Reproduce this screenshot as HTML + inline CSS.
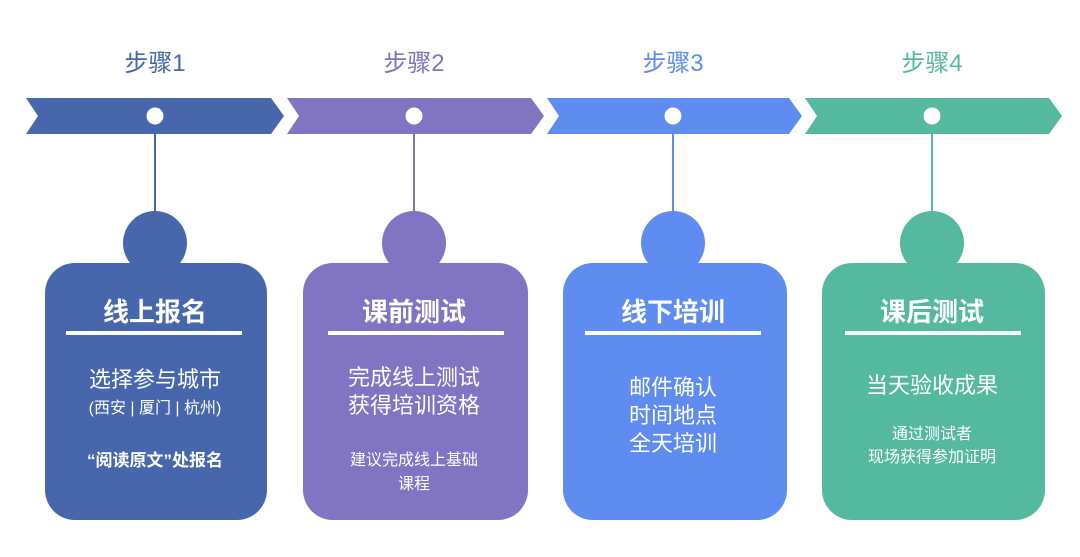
<!DOCTYPE html>
<html><head><meta charset="utf-8"><style>
body{margin:0;background:#fff;}
svg text{font-family:"Liberation Sans","Noto Sans CJK SC",sans-serif;}
</style></head><body>
<svg width="1080" height="552" viewBox="0 0 1080 552" xmlns="http://www.w3.org/2000/svg">
<rect width="1080" height="552" fill="#fff"/>
<polygon points="26,98 271,98 284,116 271,134 26,134 38,116" fill="#4767AD"/>
<polygon points="287,98 531,98 544,116 531,134 287,134 299,116" fill="#8174C2"/>
<polygon points="547,98 789,98 802,116 789,134 547,134 559,116" fill="#5E8CF0"/>
<polygon points="805,98 1049,98 1062,116 1049,134 805,134 817,116" fill="#55B9A0"/>
<g font-size="24" text-anchor="middle">
<text x="155" y="71" fill="#4767AD">步骤1</text>
<text x="414" y="71" fill="#7E74BC">步骤2</text>
<text x="673" y="71" fill="#5E8CF0">步骤3</text>
<text x="932" y="71" fill="#55B9A0">步骤4</text>
</g>
<g>
<line x1="155" y1="116" x2="155" y2="230" stroke="#4767AD" stroke-width="2"/>
<circle cx="155" cy="243" r="32" fill="#4767AD"/>
<rect x="45" y="263" width="222" height="257" rx="30" fill="#4767AD"/>
<circle cx="155" cy="116" r="8.5" fill="#fff"/>
<line x1="414" y1="116" x2="414" y2="230" stroke="#8174C2" stroke-width="2"/>
<circle cx="414" cy="243" r="32" fill="#8174C2"/>
<rect x="303" y="263" width="225" height="257" rx="30" fill="#8174C2"/>
<circle cx="414" cy="116" r="8.5" fill="#fff"/>
<line x1="673" y1="116" x2="673" y2="230" stroke="#5E8CF0" stroke-width="2"/>
<circle cx="673" cy="243" r="32" fill="#5E8CF0"/>
<rect x="563" y="263" width="224" height="257" rx="30" fill="#5E8CF0"/>
<circle cx="673" cy="116" r="8.5" fill="#fff"/>
<line x1="932" y1="116" x2="932" y2="230" stroke="#55B9A0" stroke-width="2"/>
<circle cx="932" cy="243" r="32" fill="#55B9A0"/>
<rect x="822" y="263" width="223" height="257" rx="30" fill="#55B9A0"/>
<circle cx="932" cy="116" r="8.5" fill="#fff"/>
</g>
<g fill="#fff">
<rect x="66" y="331" width="176" height="4"/>
<rect x="328" y="331" width="176" height="4"/>
<rect x="585" y="331" width="176" height="4"/>
<rect x="845" y="331" width="176" height="4"/>
</g>
<g fill="#fff" text-anchor="middle">
<g font-size="26" font-weight="bold">
<text x="155" y="321">线上报名</text>
<text x="414" y="321">课前测试</text>
<text x="673" y="321">线下培训</text>
<text x="932" y="321">课后测试</text>
</g>
<text x="155" y="387" font-size="22">选择参与城市</text>
<text x="155" y="413" font-size="16">(西安 | 厦门 | 杭州)</text>
<text x="155" y="466" font-size="17" font-weight="bold">“阅读原文”处报名</text>
<text x="414" y="385" font-size="22">完成线上测试</text>
<text x="414" y="413" font-size="22">获得培训资格</text>
<text x="414" y="465" font-size="16">建议完成线上基础</text>
<text x="414" y="489" font-size="16">课程</text>
<text x="673" y="395" font-size="22">邮件确认</text>
<text x="673" y="423" font-size="22">时间地点</text>
<text x="673" y="451" font-size="22">全天培训</text>
<text x="932" y="393" font-size="22">当天验收成果</text>
<text x="932" y="439" font-size="16">通过测试者</text>
<text x="932" y="462" font-size="16">现场获得参加证明</text>
</g>
</svg>
</body></html>
